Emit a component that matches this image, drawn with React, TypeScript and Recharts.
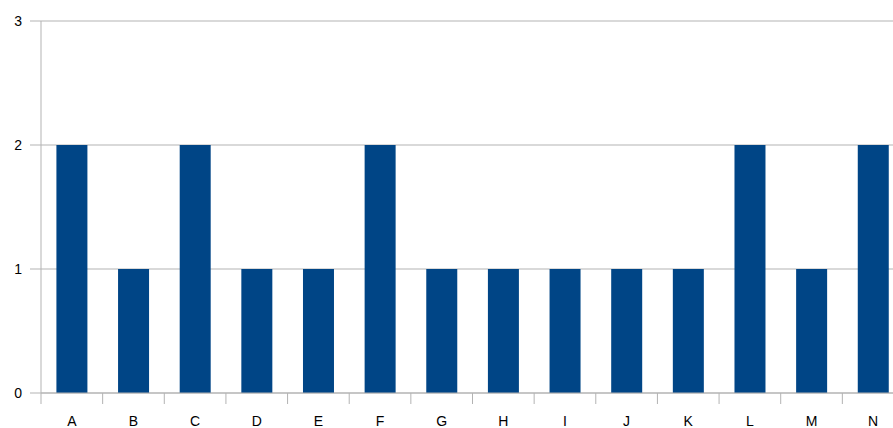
import React from 'react';
import { BarChart, Bar, XAxis, YAxis, CartesianGrid } from 'recharts';

const categories = ['A', 'B', 'C', 'D', 'E', 'F', 'G', 'H', 'I', 'J', 'K', 'L', 'M', 'N'];
const values = [2, 1, 2, 1, 1, 2, 1, 1, 1, 1, 1, 2, 1, 2];
const yTicks = [0, 1, 2, 3];

const data = categories.map((c, i) => ({ name: c, value: values[i] }));

const GRID = '#b3b3b3';
const FONT = '"Liberation Sans", Arial, sans-serif';

const XTick = (props: any) => {
  const { x, y, payload, width } = props;
  const half = width / categories.length / 2;
  return (
    <g>
      <line x1={x - half} x2={x - half} y1={y} y2={y + 11} stroke={GRID} strokeWidth={1} />
      <text x={x} y={y + 33} textAnchor="middle" fill="#000" fontSize={14} fontFamily={FONT}>
        {payload.value}
      </text>
    </g>
  );
};

export default function App() {
  return (
    <div
      style={{
        position: 'absolute',
        left: 0,
        top: 0,
        width: 893,
        height: 428,
        overflow: 'hidden',
      }}
    >
      <div style={{ position: 'absolute', left: 8, top: 8 }}>
        <BarChart
          width={896}
          height={420}
          data={data}
          margin={{ top: 13, right: 0, left: 0, bottom: 0 }}
          barCategoryGap="25%"
        >
          <CartesianGrid vertical={false} stroke={GRID} />
          <XAxis
            dataKey="name"
            height={35}
            tickSize={0}
            tickMargin={0}
            tick={<XTick />}
            axisLine={{ stroke: GRID }}
            tickLine={false}
            interval={0}
          />
          <YAxis
            width={33}
            domain={[0, 3]}
            ticks={yTicks}
            tickSize={11}
            tickMargin={8}
            axisLine={{ stroke: GRID }}
            tickLine={{ stroke: GRID }}
            tick={{ fill: '#000', fontSize: 14, fontFamily: FONT }}
          />
          <Bar dataKey="value" fill="#004586" isAnimationActive={false} />
        </BarChart>
      </div>
    </div>
  );
}
